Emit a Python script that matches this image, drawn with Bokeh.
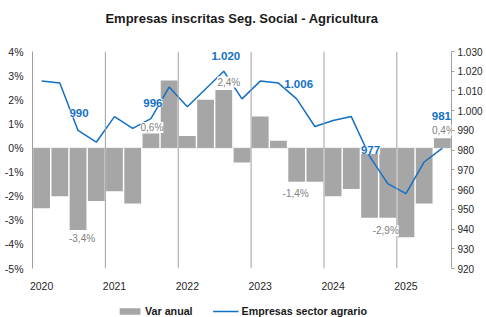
from bokeh.plotting import figure
from bokeh.layouts import column
from bokeh.models import (Range1d, LinearAxis, FixedTicker, Span, Label,
                          Legend, LegendItem)
from bokeh.embed import file_html
from bokeh.resources import INLINE

# ---------------- data ----------------
title_text = "Empresas inscritas Seg. Social - Agricultura"
periods = ["2020-T1", "2020-T2", "2020-T3", "2020-T4",
           "2021-T1", "2021-T2", "2021-T3", "2021-T4",
           "2022-T1", "2022-T2", "2022-T3", "2022-T4",
           "2023-T1", "2023-T2", "2023-T3", "2023-T4",
           "2024-T1", "2024-T2", "2024-T3", "2024-T4",
           "2025-T1", "2025-T2", "2025-T3"]
var_anual = [-2.5, -2.0, -3.4, -2.2, -1.8, -2.3, 0.6, 2.8, 0.5, 2.0, 2.4, -0.6,
             1.3, 0.3, -1.4, -1.4, -2.0, -1.7, -2.9, -2.9, -3.7, -2.3, 0.4]
empresas = [1015, 1014, 990, 984, 997, 991, 996, 1012, 1002, 1011, 1020, 1006,
            1015, 1014, 1006, 992, 995, 997, 977, 963, 958, 974, 981]
left_ticks = [-5, -4, -3, -2, -1, 0, 1, 2, 3, 4]
right_ticks = [920, 930, 940, 950, 960, 970, 980, 990, 1000, 1010, 1020, 1030]
line_label_idx = [2, 6, 10, 14, 18, 22]
bar_label_idx = [2, 6, 10, 14, 19, 22]
series_names = ["Var anual", "Empresas sector agrario"]

# ---------------- style ----------------
BAR = "#A6A6A6"
BLUE = "#1370C4"
GRAYTXT = "#7F7F7F"
AXC = "#A0A0A0"
TXT = "#262626"
FONT = "Liberation Sans"
line_dx = [1, 2, 2, 2, 1, -1]
line_dy = [17, 16, 15, 15, 6, 32]
bar_dx = [4, 1, 5, -1, -2, 1]
bar_dy = [-9, 6, 8, -12, -13, 8]

x = list(range(len(periods)))
years = [p.split("-")[0] for p in periods]
year_start = [i for i in x if i == 0 or years[i] != years[i - 1]]


def thousands(v):
    s = f"{v:,.0f}"
    return s.replace(",", ".")


def pct(v):
    return f"{v:.1f}".replace(".", ",") + "%"


def strip(h):
    f = figure(width=486, height=h, output_backend="svg", toolbar_location=None,
               x_range=Range1d(0, 1), y_range=Range1d(0, 1), min_border=0)
    f.axis.visible = False
    f.grid.visible = False
    f.outline_line_color = None
    f.background_fill_color = "white"
    f.border_fill_color = "white"
    return f


# ---------------- title strip ----------------
tt = strip(36)
tt.add_layout(Label(x=0.5, y=0.5, text=title_text, text_align="center",
                    text_baseline="middle", text_font=FONT,
                    text_font_size="13px", text_font_style="bold",
                    text_color="#1a1a1a"))

# ---------------- main chart ----------------
p = figure(width=486, height=268, output_backend="svg", toolbar_location=None,
           x_range=Range1d(-0.5, len(periods) - 0.5),
           y_range=Range1d(left_ticks[0], left_ticks[-1]),
           min_border_left=32, min_border_right=35, min_border_top=15,
           min_border_bottom=36)
p.extra_y_ranges = {"emp": Range1d(right_ticks[0], right_ticks[-1])}
p.outline_line_color = None
p.xgrid.visible = False
p.ygrid.visible = False
p.background_fill_color = "white"
p.border_fill_color = "white"

# left axis
la = p.yaxis[0]
la.ticker = FixedTicker(ticks=left_ticks)
la.major_label_overrides = {t: f"{t}%" for t in left_ticks}
la.major_tick_line_color = None
la.minor_tick_line_color = None
la.axis_line_color = AXC
la.major_label_standoff = 3
la.major_label_text_font = FONT
la.major_label_text_font_size = "10.5px"
la.major_label_text_color = TXT

# right axis
ra = LinearAxis(y_range_name="emp", ticker=FixedTicker(ticks=right_ticks))
ra.major_label_overrides = {t: thousands(t) for t in right_ticks}
ra.major_tick_out = 3
ra.major_tick_in = 0
ra.major_tick_line_color = AXC
ra.minor_tick_line_color = None
ra.axis_line_color = AXC
ra.major_label_standoff = 3
ra.major_label_text_font = FONT
ra.major_label_text_font_size = "10px"
ra.major_label_text_color = TXT
p.add_layout(ra, "right")

# x axis
xa = p.xaxis[0]
xa.ticker = FixedTicker(ticks=year_start)
xa.major_label_overrides = {i: years[i] for i in year_start}
xa.axis_line_color = None
xa.major_tick_line_color = None
xa.minor_tick_line_color = None
xa.major_label_standoff = 7
xa.major_label_text_font = FONT
xa.major_label_text_font_size = "10.5px"
xa.major_label_text_color = TXT

# year separators
for i in year_start[1:]:
    p.add_layout(Span(location=i - 0.5, dimension="height", line_color=AXC,
                      line_width=1))

bars = p.vbar(x=x, top=var_anual, bottom=0, width=0.92, fill_color=BAR,
              line_color=None)
p.add_layout(Span(location=0, dimension="width", line_color="#BFBFBF",
                  line_width=1, line_dash="1 1"))
line = p.line(x=x, y=empresas, y_range_name="emp", line_color=BLUE,
              line_width=1.5)

for k, i in enumerate(bar_label_idx):
    p.add_layout(Label(x=i, y=var_anual[i], text=pct(var_anual[i]),
                       x_offset=bar_dx[k], y_offset=bar_dy[k],
                       text_align="center", text_baseline="middle",
                       text_font=FONT, text_font_size="10px",
                       text_color=GRAYTXT, background_fill_color="white"))

for k, i in enumerate(line_label_idx):
    p.add_layout(Label(x=i, y=empresas[i], y_range_name="emp",
                       text=thousands(empresas[i]),
                       x_offset=line_dx[k], y_offset=line_dy[k],
                       text_align="center", text_baseline="middle",
                       text_font=FONT, text_font_size="11.5px",
                       text_font_style="bold", text_color=BLUE,
                       background_fill_color="white"))

# ---------------- legend strip ----------------
lg = strip(13)
lg.x_range = Range1d(-0.5, len(periods) - 0.5)
lg.y_range = Range1d(5000, 5001)
d_bar = lg.vbar(x=x, top=var_anual, bottom=0, width=0.92, fill_color=BAR,
                line_color=None)
d_line = lg.line(x=x, y=empresas, line_color=BLUE, line_width=1.5)
legend = Legend(items=[LegendItem(label=series_names[0], renderers=[d_bar]),
                       LegendItem(label=series_names[1], renderers=[d_line])],
                orientation="horizontal", location="center",
                glyph_width=26, glyph_height=8, label_standoff=3, spacing=20,
                padding=0, margin=0, border_line_color=None,
                background_fill_alpha=0,
                label_text_font=FONT, label_text_font_size="10.7px",
                label_text_font_style="bold", label_text_color="#1a1a1a")
lg.add_layout(legend, "center")

layout = column(tt, p, lg, spacing=0)
open("out.html", "w").write(file_html(layout, INLINE))
